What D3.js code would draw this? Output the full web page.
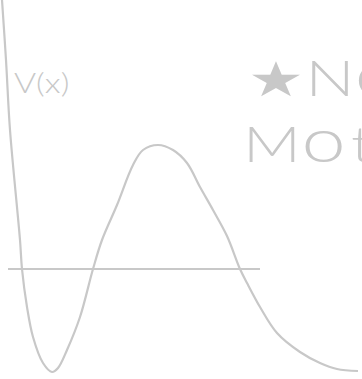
<!DOCTYPE html>
<html>
<head>
<meta charset="utf-8">
<script src="https://cdn.jsdelivr.net/npm/d3@7"></script>
<style>
  html, body { margin: 0; padding: 0; background: #fff; }
</style>
</head>
<body>
<div id="canvas"></div>
<script>
"use strict";

/**** CONFIGURATION ****/
let svgWidth = 362;
let svgHeight = 379;
let grey = "#c8c8c8";

/**** DATA: potential V(x) ****/
let xValues = [0.02, 0.06, 0.10, 0.20, 0.22, 0.27, 0.33, 0.43, 0.52, 0.58, 0.67, 0.80, 0.93,
    1.02, 1.17, 1.33, 1.43, 1.58, 1.73, 1.87, 2.00, 2.13, 2.27, 2.40, 2.47, 2.60, 2.77,
    3.00, 3.20, 3.37, 3.58];
let vValues = [2.69, 2.09, 1.39, 0.29, 0.00, -0.38, -0.68, -0.94, -1.03, -0.99, -0.81, -0.48, 0.00,
    0.29, 0.64, 1.04, 1.19, 1.24, 1.19, 1.06, 0.82, 0.59, 0.33, 0.00, -0.14, -0.38, -0.64,
    -0.83, -0.94, -1.00, -1.02];

// energy level line
let energyLevel = 0;
let energyRange = [0.08, 2.60];

let axisLabel = "V(x)";
let titleLines = ["\u2605No", "Mot"];

let points = xValues.map(function(x, i) {
    return { x: x, v: vValues[i] };
});

/**** SVG ****/
let svg = d3.select("#canvas")
    .append("svg")
    .attr("width", svgWidth)
    .attr("height", svgHeight)
    .style("display", "block");

/**** SCALES ****/
let xScale = d3.scaleLinear()
    .domain([0, 3.62])
    .range([0, 362]);

let yScale = d3.scaleLinear()
    .domain([-1.10, 2.69])
    .range([379, 0]);

/**** ENERGY LINE ****/
svg.append("line")
    .attr("x1", xScale(energyRange[0]))
    .attr("x2", xScale(energyRange[1]))
    .attr("y1", yScale(energyLevel))
    .attr("y2", yScale(energyLevel))
    .attr("stroke", grey)
    .attr("stroke-width", 2);

/**** POTENTIAL CURVE ****/
let line = d3.line()
    .x(function(d) { return xScale(d.x); })
    .y(function(d) { return yScale(d.v); })
    .curve(d3.curveCatmullRom.alpha(0.5));

svg.append("path")
    .datum(points)
    .attr("d", line)
    .attr("fill", "none")
    .attr("stroke", grey)
    .attr("stroke-width", 2.2);

/**** LABELS ****/
// the original face is a wide geometric sans, so the text is stretched sideways
svg.append("text")
    .attr("transform", "translate(14,93) scale(1.25,1)")
    .style("font-family", "Lato, sans-serif")
    .style("font-weight", 300)
    .style("font-size", "27px")
    .attr("fill", grey)
    .text(axisLabel);

// local x of each glyph inside the stretched line, and its size
let glyphX = [[4, 48, 86], [0, 45, 83]];
let glyphSize = [[48, 50, 61], [49, 61, 49]];
let stretch = 1.3;

for (let i = 0; i < titleLines.length; i++) {
    let t = svg.append("text")
        .attr("transform", `translate(243,${96 + i * 66}) scale(${stretch},1)`)
        .style("font-family", "Lato, sans-serif")
        .style("font-weight", 300)
        .attr("fill", grey);

    let chars = Array.from(titleLines[i]);
    for (let j = 0; j < chars.length; j++) {
        t.append("tspan")
            .attr("x", glyphX[i][j])
            .style("font-size", glyphSize[i][j] + "px")
            .text(chars[j]);
    }
}
</script>
</body>
</html>
